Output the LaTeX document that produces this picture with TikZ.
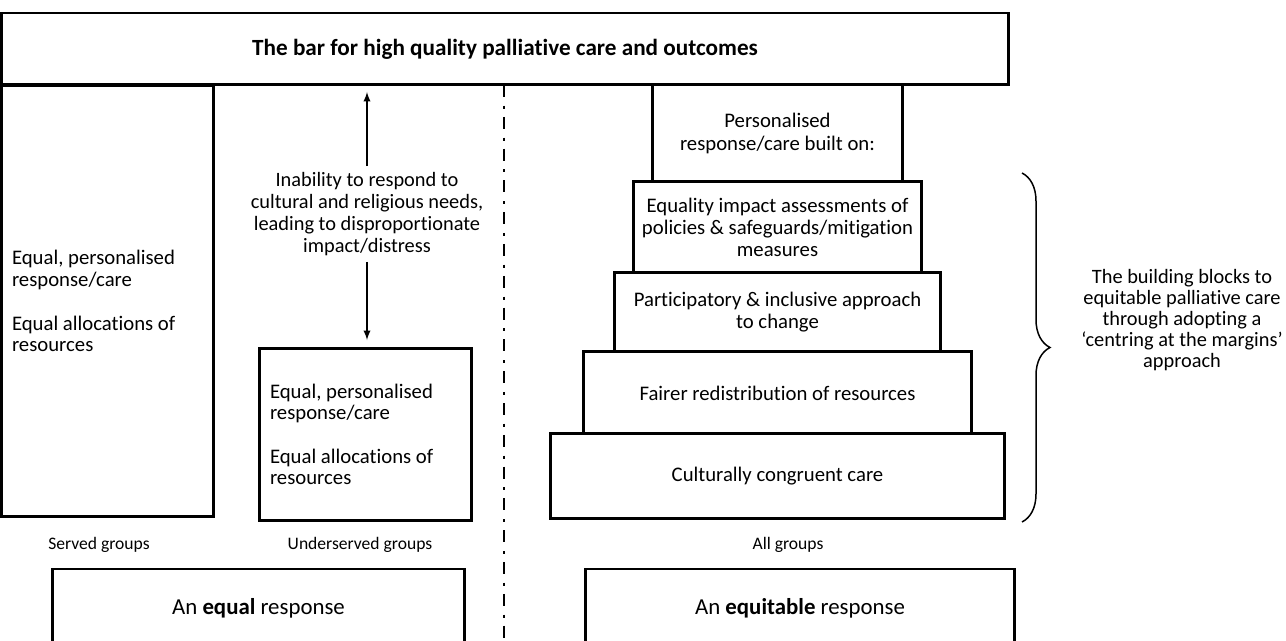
\documentclass[tikz,border=0pt]{standalone}
\usepackage{fontspec}
\setmainfont{Carlito}[Ligatures=NoCommon]
\usetikzlibrary{positioning, decorations.pathreplacing}

\tikzset{
  blockbox/.style={draw, line width=1.7pt, inner sep=0pt, outer sep=0pt,
    align=center, font=\fontsize{11.8}{12.6}\selectfont},
  sidebox/.style={blockbox, align=flush left, text width=3.82cm, inner xsep=0.22cm,
    minimum width=4.26cm, font=\fontsize{11.8}{12}\selectfont},
  basebox/.style={blockbox, minimum height=1.56cm, font=\fontsize{13}{15}\selectfont},
  grouplabel/.style={font=\fontsize{10}{12}\selectfont},
  divider/.style={line width=1.7pt, dash pattern=on 6.8pt off 5pt on 1.7pt off 4.6pt},
  thinarrow/.style={-latex, line width=0.85pt},
  bracepath/.style={decorate, decoration={brace, amplitude=0.56cm}, line width=0.85pt},
}

\begin{document}
\begin{tikzpicture}[x=0.02cm, y=-0.02cm]
\useasboundingbox (0,0) rectangle (1286,641);

% the bar
\node[blockbox, minimum width=20.16cm, minimum height=1.44cm,
  font=\fontsize{13.2}{15}\selectfont\bfseries] (bar) at (505,49)
  {The bar for high quality palliative care and outcomes};

% equal side
\node[sidebox, minimum height=8.64cm] (served) at (107.5,301)
  {Equal, personalised\\response/care\\[0.46cm]Equal allocations of\\resources};
\node[sidebox, minimum height=3.46cm] (under) at (365.5,434.5)
  {Equal, personalised\\response/care\\[0.46cm]Equal allocations of\\resources};
\node[align=center, font=\fontsize{11.6}{12.5}\selectfont] (inab) at (367,214)
  {Inability to respond to\\cultural and religious needs,\\leading to disproportionate\\impact/distress};
\draw[thinarrow, shorten >=0.14cm] (inab) -- (inab |- bar.south);
\draw[thinarrow, shorten >=0.16cm] (inab) -- (inab |- under.north);

% divider
\coordinate (divtop) at (504,85);
\coordinate (divbot) at (504,641);
\draw[divider] (divtop) -- (divbot);

% equitable side, building blocks
\node[blockbox, minimum width=5.02cm, minimum height=1.94cm] (pers) at (777.5,133.5)
  {Personalised\\response/care built on:};
\node[blockbox, minimum width=5.78cm, minimum height=1.82cm, below=0pt of pers] (eqia)
  {Equality impact assessments of\\policies \& safeguards/mitigation\\measures};
\node[blockbox, minimum width=6.54cm, minimum height=1.58cm, below=0pt of eqia] (part)
  {Participatory \& inclusive approach\\to change};
\node[blockbox, minimum width=7.78cm, minimum height=1.64cm, below=0pt of part] (fair)
  {Fairer redistribution of resources};
\node[blockbox, minimum width=9.08cm, minimum height=1.70cm, below=0pt of fair] (cult)
  {Culturally congruent care};

% brace
\coordinate (btop) at (1022,173);
\coordinate (bbot) at (1022,522);
\draw[bracepath] (btop) -- (bbot);
\node[align=center, font=\fontsize{11.6}{11.9}\selectfont] (blocks) at (1182,320)
  {The building blocks to\\equitable palliative care\\through adopting a\\`centring at the margins'\\approach};

% groups
\node[grouplabel] (servedlab) at (99,545) {Served groups};
\node[grouplabel] (underlab) at (360,545) {Underserved groups};
\node[grouplabel] (alllab) at (788,545) {All groups};

% responses
\node[basebox, minimum width=8.26cm] (equal) at (258.5,608)
  {An \textbf{equal} response};
\node[basebox, minimum width=8.6cm] (equit) at (800,608)
  {An \textbf{equitable} response};
\end{tikzpicture}
\end{document}
